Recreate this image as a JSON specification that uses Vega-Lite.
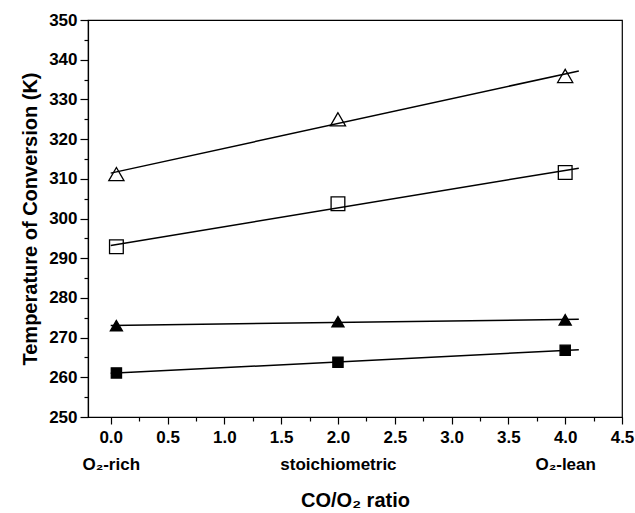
{
  "$schema": "https://vega.github.io/schema/vega-lite/v6.json",
  "width": 534,
  "height": 397,
  "autosize": "none",
  "padding": {"left": 88, "top": 20, "right": 13, "bottom": 96},
  "background": "white",
  "config": {
    "view": {"stroke": "black", "strokeWidth": 1.2},
    "font": "Liberation Sans",
    "axis": {
      "domainColor": "black",
      "domainWidth": 1.2,
      "tickColor": "black",
      "tickWidth": 1.2,
      "labelColor": "black",
      "labelFont": "Liberation Sans",
      "labelFontWeight": "bold",
      "labelFontSize": 17,
      "titleFont": "Liberation Sans",
      "titleFontWeight": "bold",
      "titleFontSize": 19,
      "titleColor": "black",
      "grid": false,
      "labelOverlap": false,
      "labelFlush": false
    }
  },
  "data": {
    "values": [
      {"series": "open_tri", "x": 0.05, "T": 311.2},
      {"series": "open_tri", "x": 2.0, "T": 325.0},
      {"series": "open_tri", "x": 4.0, "T": 335.9},
      {"series": "open_sq", "x": 0.05, "T": 292.9},
      {"series": "open_sq", "x": 2.0, "T": 303.7},
      {"series": "open_sq", "x": 4.0, "T": 311.6},
      {"series": "fill_tri", "x": 0.05, "T": 273.0},
      {"series": "fill_tri", "x": 2.0, "T": 274.0},
      {"series": "fill_tri", "x": 4.0, "T": 274.5},
      {"series": "fill_sq", "x": 0.05, "T": 261.1},
      {"series": "fill_sq", "x": 2.0, "T": 263.8},
      {"series": "fill_sq", "x": 4.0, "T": 266.8}
    ]
  },
  "encoding": {
    "x": {
      "field": "x",
      "type": "quantitative",
      "scale": {"domain": [-0.2, 4.5], "nice": false, "zero": false},
      "axis": {
        "title": "CO/O₂ ratio",
        "titleFontSize": 20,
        "titlePadding": 18,
        "values": [0, 0.25, 0.5, 0.75, 1, 1.25, 1.5, 1.75, 2, 2.25, 2.5, 2.75, 3, 3.25, 3.5, 3.75, 4, 4.25, 4.5],
        "tickSize": {"condition": {"test": "abs(datum.value*2 - round(datum.value*2)) < 0.01", "value": 7}, "value": 4},
        "labelPadding": 5,
        "labelLineHeight": 27,
        "labelExpr": "abs(datum.value*2 - round(datum.value*2)) > 0.01 ? '' : datum.value === 0 ? ['0.0', 'O₂-rich'] : datum.value === 2 ? ['2.0', 'stoichiometric'] : datum.value === 4 ? ['4.0', 'O₂-lean'] : format(datum.value, '.1f')"
      }
    },
    "y": {
      "field": "T",
      "type": "quantitative",
      "scale": {"domain": [250, 350], "nice": false, "zero": false},
      "axis": {
        "title": "Temperature of Conversion (K)",
        "titleFontSize": 20,
        "titlePadding": 8,
        "values": [250, 255, 260, 265, 270, 275, 280, 285, 290, 295, 300, 305, 310, 315, 320, 325, 330, 335, 340, 345, 350],
        "tickSize": {"condition": {"test": "datum.value % 10 === 0", "value": 8}, "value": 4},
        "labelPadding": 3,
        "labelExpr": "datum.value % 10 === 0 ? datum.label : ''"
      }
    }
  },
  "layer": [
    {
      "transform": [
        {"regression": "T", "on": "x", "groupby": ["series"], "extent": [0, 4.12]}
      ],
      "mark": {"type": "line", "color": "black", "strokeWidth": 1.5},
      "encoding": {"detail": {"field": "series"}}
    },
    {
      "mark": {"type": "point", "filled": true, "stroke": "black", "strokeWidth": 1.3, "opacity": 1},
      "encoding": {
        "shape": {
          "field": "series",
          "scale": {"domain": ["open_tri", "open_sq", "fill_tri", "fill_sq"], "range": ["triangle-up", "square", "triangle-up", "square"]},
          "legend": null
        },
        "fill": {
          "field": "series",
          "scale": {"domain": ["open_tri", "open_sq", "fill_tri", "fill_sq"], "range": ["transparent", "transparent", "black", "black"]},
          "legend": null
        },
        "size": {
          "field": "series",
          "scale": {"domain": ["open_tri", "open_sq", "fill_tri", "fill_sq"], "range": [230, 105, 230, 105]},
          "legend": null
        }
      }
    }
  ]
}
